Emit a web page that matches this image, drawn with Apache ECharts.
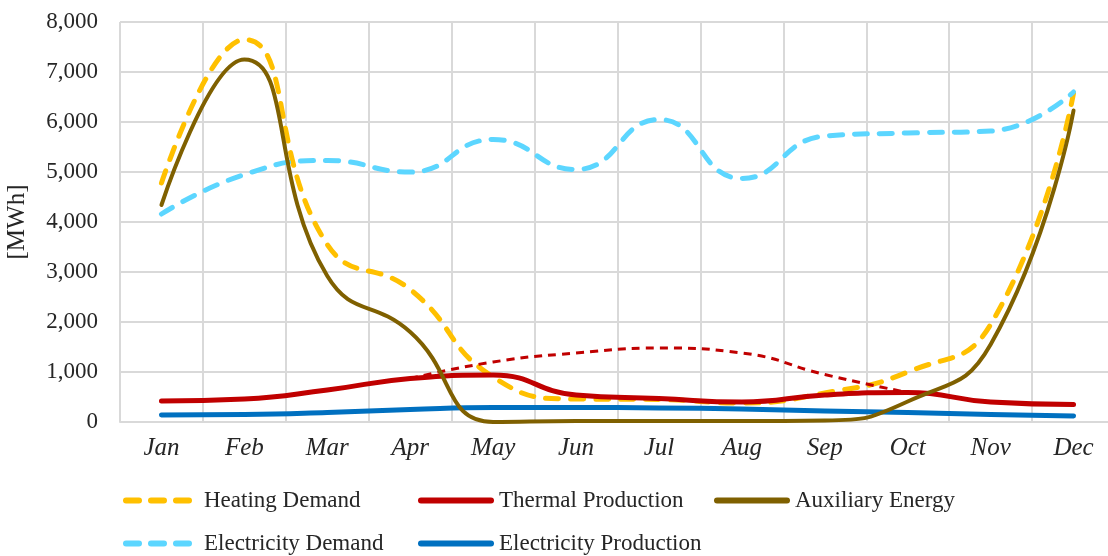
<!DOCTYPE html>
<html>
<head>
<meta charset="utf-8">
<title>Monthly energy balance</title>
<script src="https://cdn.jsdelivr.net/npm/echarts@6/dist/echarts.min.js"></script>
<style>
  html, body { margin: 0; padding: 0; background: #ffffff; }
  #chart { width: 1108px; height: 556px; }
</style>
</head>
<body>
<div id="chart"></div>
<script>
// Monthly values in MWh
const months = ['Jan', 'Feb', 'Mar', 'Apr', 'May', 'Jun', 'Jul', 'Aug', 'Sep', 'Oct', 'Nov', 'Dec'];
const heatingDemand = [4780, 7650, 3550, 2650, 900, 460, 450, 380, 580, 1000, 1950, 6580];
const thermalProduction = [420, 460, 640, 870, 940, 540, 470, 400, 540, 590, 400, 350];
const auxiliaryEnergy = [4340, 7250, 2920, 1800, 0, 20, 20, 20, 30, 410, 1550, 6230];
const electricityDemand = [4160, 4950, 5230, 5000, 5650, 5050, 6050, 4870, 5720, 5780, 5820, 6600];
const electricityProduction = [140, 150, 190, 250, 290, 290, 280, 260, 220, 190, 150, 120];
// Collector output before it is capped by demand (Apr–Oct)
const thermalPotential = [null, null, null, 870, 1200, 1380, 1480, 1380, 950, 590, null, null];
const yTicks = { min: 0, max: 8000, interval: 1000 };

const FONT = '"Liberation Serif", "Times New Roman", serif';
const TEXT_COLOR = '#262626';
const GRID_COLOR = '#d9d9d9';
const DASH = [13, 12];

const chart = echarts.init(document.getElementById('chart'), null, { renderer: 'canvas' });

function lineSeries(name, data, color, width, dashed, z) {
  return {
    name: name,
    type: 'line',
    data: data,
    smooth: 0.5,
    showSymbol: false,
    symbol: 'none',
    z: z,
    lineStyle: {
      color: color,
      width: width,
      type: dashed ? DASH : 'solid',
      cap: 'round',
      join: 'round'
    },
    itemStyle: { color: color },
    emphasis: { disabled: true }
  };
}

// One legend block per entry so each sits in its own column
function legendAt(name, left, top) {
  return {
    data: [name],
    left: left,
    top: top,
    padding: 0,
    itemWidth: 70,
    itemHeight: 14,
    itemGap: 0,
    selectedMode: false,
    itemStyle: { opacity: 0 },
    lineStyle: { width: 6, cap: 'round' },
    textStyle: { fontFamily: FONT, fontSize: 23, color: TEXT_COLOR, padding: [0, 0, 0, 3] }
  };
}

const option = {
  backgroundColor: '#ffffff',
  animation: false,
  grid: { left: 120, top: 22, width: 995, height: 400, outerBoundsMode: 'none', containLabel: false },
  legend: [
    legendAt('Heating Demand', 123, 489),
    legendAt('Thermal Production', 418, 489),
    legendAt('Auxiliary Energy', 714, 489),
    legendAt('Electricity Demand', 123, 532),
    legendAt('Electricity Production', 418, 532)
  ],
  xAxis: {
    type: 'category',
    data: months,
    boundaryGap: true,
    axisLine: { show: true, lineStyle: { color: GRID_COLOR, width: 2 } },
    axisTick: { show: false },
    splitLine: { show: true, lineStyle: { color: GRID_COLOR, width: 2 } },
    axisLabel: {
      margin: 14,
      fontFamily: FONT,
      fontStyle: 'italic',
      fontSize: 25,
      color: TEXT_COLOR
    }
  },
  yAxis: {
    type: 'value',
    min: yTicks.min,
    max: yTicks.max,
    interval: yTicks.interval,
    name: '[MWh]',
    nameLocation: 'middle',
    nameGap: 90,
    nameRotate: 90,
    nameTextStyle: { fontFamily: FONT, fontSize: 25, color: TEXT_COLOR },
    axisLine: { show: false },
    axisTick: { show: false },
    splitLine: { show: true, lineStyle: { color: GRID_COLOR, width: 2 } },
    axisLabel: {
      margin: 22,
      fontFamily: FONT,
      fontSize: 23,
      color: TEXT_COLOR,
      formatter: function (v) { return String(v).replace(/\B(?=(\d{3})+(?!\d))/g, ','); }
    }
  },
  series: [
    lineSeries('Heating Demand', heatingDemand, '#FFC000', 5, true, 2),
    lineSeries('Thermal Production', thermalProduction, '#C00000', 5, false, 3),
    lineSeries('Auxiliary Energy', auxiliaryEnergy, '#7F6000', 4, false, 4),
    lineSeries('Electricity Demand', electricityDemand, '#5CD6FF', 5, true, 2),
    lineSeries('Electricity Production', electricityProduction, '#0070C0', 5, false, 3),
    {
      name: 'Thermal Potential',
      type: 'line',
      data: thermalPotential,
      smooth: 0.5,
      showSymbol: false,
      symbol: 'none',
      z: 3,
      lineStyle: { color: '#C00000', width: 3, type: [8, 6] },
      emphasis: { disabled: true }
    }
  ]
};

chart.setOption(option);
</script>
</body>
</html>
